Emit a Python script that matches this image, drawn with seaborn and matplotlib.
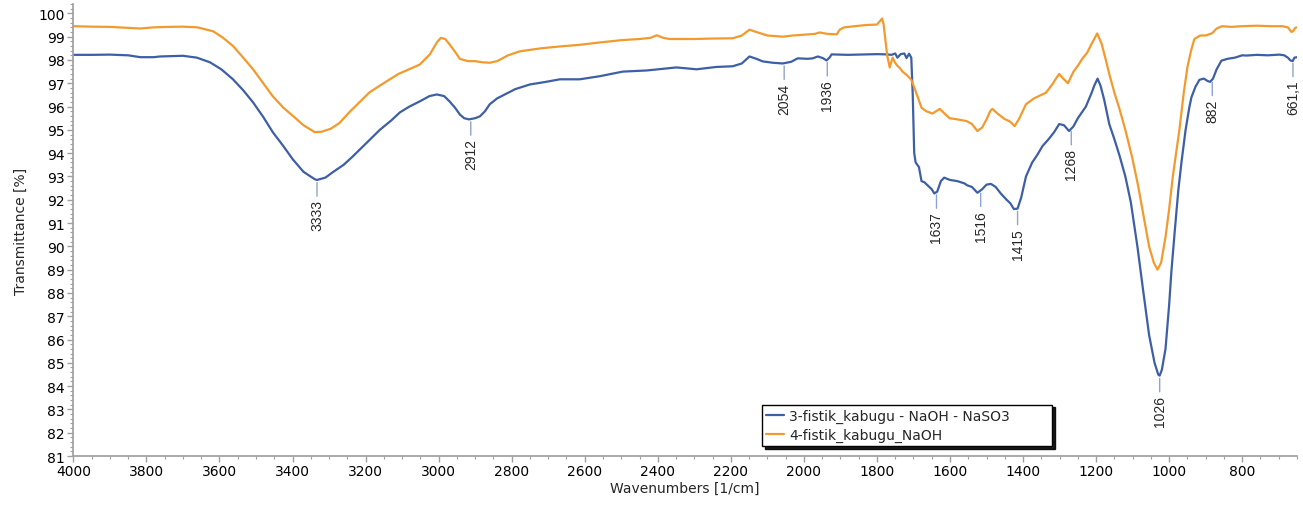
import numpy as np
import pandas as pd
import matplotlib
matplotlib.use("Agg")
import matplotlib.pyplot as plt
from matplotlib.ticker import MultipleLocator
import seaborn as sns

# Spectrum 3: blue
wn_3 = [4000, 3950, 3900, 3850, 3817, 3780, 3763, 3700, 3662, 3626, 3595, 3563, 3535, 3508,
        3480, 3454, 3425, 3399, 3370, 3339, 3333, 3310, 3290, 3260, 3235, 3200, 3161, 3130,
        3106, 3080, 3052, 3025, 3005, 2985, 2970, 2955, 2942, 2930, 2917, 2900, 2887, 2873,
        2860, 2840, 2819, 2790, 2750, 2710, 2668, 2614, 2560, 2496, 2430, 2349, 2294, 2240,
        2195, 2170, 2149, 2130, 2113, 2085, 2058, 2035, 2017, 1990, 1976, 1962, 1948, 1938,
        1930, 1924, 1880, 1830, 1800, 1774, 1760, 1750, 1744, 1735, 1725, 1719, 1712, 1706,
        1702, 1698, 1694, 1685, 1678, 1670, 1660, 1650, 1643, 1635, 1625, 1616, 1600, 1580,
        1560, 1553, 1540, 1525, 1512, 1500, 1488, 1475, 1460, 1445, 1435, 1425, 1415, 1405,
        1392, 1375, 1360, 1347, 1330, 1315, 1301, 1288, 1274, 1262, 1250, 1228, 1212, 1205,
        1196, 1188, 1178, 1164, 1150, 1136, 1120, 1105, 1087, 1072, 1055, 1040, 1030, 1026,
        1020, 1010, 1000, 994, 985, 975, 966, 955, 945, 939, 928, 917, 905, 895, 888, 880,
        870, 857, 840, 820, 800, 788, 760, 730, 698, 685, 675, 668, 662, 657, 650]
t_3 = [98.22, 98.22, 98.23, 98.2, 98.12, 98.12, 98.15, 98.18, 98.1, 97.9, 97.6, 97.17, 96.7, 96.18,
       95.55, 94.9, 94.3, 93.73, 93.2, 92.88, 92.85, 92.95, 93.18, 93.5, 93.86, 94.4, 95.0, 95.4,
       95.75, 96.0, 96.22, 96.45, 96.52, 96.45, 96.22, 95.95, 95.66, 95.5, 95.45, 95.5, 95.58, 95.8,
       96.1, 96.35, 96.52, 96.75, 96.95, 97.05, 97.17, 97.17, 97.3, 97.5, 97.55, 97.68, 97.6, 97.7,
       97.73, 97.85, 98.15, 98.05, 97.94, 97.88, 97.85, 97.92, 98.07, 98.05, 98.07, 98.15, 98.08, 97.98,
       98.1, 98.24, 98.22, 98.24, 98.25, 98.24, 98.22, 98.28, 98.1, 98.25, 98.28, 98.08, 98.27, 98.1,
       96.5, 94.0, 93.6, 93.4, 92.8, 92.75, 92.6, 92.45, 92.27, 92.35, 92.8, 92.95, 92.85, 92.8,
       92.7, 92.62, 92.55, 92.3, 92.45, 92.65, 92.68, 92.55, 92.25, 92.0, 91.85, 91.6, 91.62, 92.1,
       93.0, 93.6, 93.95, 94.3, 94.6, 94.9, 95.25, 95.2, 94.95, 95.15, 95.5, 96.0, 96.6, 96.9,
       97.2, 96.9, 96.3, 95.25, 94.6, 93.9, 93.0, 91.9, 90.0, 88.2, 86.2, 85.0, 84.5, 84.45,
       84.7, 85.6, 87.5, 88.9, 90.6, 92.4, 93.65, 95.0, 95.95, 96.4, 96.85, 97.15, 97.2, 97.1, 97.06, 97.2,
       97.6, 97.97, 98.05, 98.1, 98.2, 98.19, 98.22, 98.2, 98.23, 98.2, 98.1, 97.98, 97.95, 98.1, 98.12]

# Spectrum 4: orange
wn_4 = [4000, 3950, 3900, 3850, 3817, 3780, 3740, 3700, 3660, 3617, 3590, 3563, 3535, 3508,
        3480, 3454, 3425, 3399, 3370, 3339, 3320, 3295, 3271, 3245, 3216, 3190, 3161, 3110,
        3052, 3024, 3005, 2994, 2982, 2970, 2955, 2942, 2920, 2900, 2880, 2860, 2840, 2810,
        2778, 2720, 2668, 2614, 2560, 2500, 2450, 2420, 2403, 2385, 2368, 2300, 2250, 2195,
        2170, 2149, 2130, 2100, 2058, 2030, 1985, 1970, 1957, 1935, 1910, 1902, 1890, 1860,
        1830, 1800, 1790, 1786, 1782, 1778, 1772, 1765, 1761, 1757, 1751, 1744, 1737, 1730,
        1718, 1706, 1695, 1686, 1678, 1665, 1648, 1638, 1628, 1615, 1601, 1580, 1555, 1540,
        1525, 1512, 1500, 1490, 1484, 1470, 1451, 1435, 1423, 1410, 1392, 1370, 1350, 1337,
        1320, 1310, 1301, 1290, 1277, 1262, 1250, 1238, 1225, 1212, 1197, 1185, 1175, 1164,
        1150, 1136, 1120, 1101, 1085, 1070, 1055, 1042, 1032, 1022, 1010, 1000, 990, 980,
        972, 960, 950, 940, 931, 915, 900, 882, 870, 855, 830, 800, 760, 720, 690, 675,
        665, 660, 655, 650]
t_4 = [99.45, 99.43, 99.42, 99.38, 99.35, 99.4, 99.42, 99.43, 99.4, 99.23, 98.95, 98.6, 98.1, 97.6,
       97.0, 96.44, 95.95, 95.6, 95.2, 94.9, 94.92, 95.05, 95.3, 95.75, 96.2, 96.6, 96.9, 97.4,
       97.8, 98.24, 98.75, 98.95, 98.9, 98.67, 98.35, 98.05, 97.95, 97.95, 97.9, 97.88, 97.95, 98.2,
       98.37, 98.5, 98.58, 98.65, 98.75, 98.85, 98.9, 98.95, 99.06, 98.95, 98.9, 98.9, 98.92, 98.93,
       99.05, 99.3, 99.2, 99.05, 99.0, 99.05, 99.1, 99.12, 99.18, 99.12, 99.1, 99.3, 99.4, 99.45,
       99.5, 99.52, 99.7, 99.78, 99.55, 99.0, 98.2, 97.68, 97.9, 98.1, 97.9, 97.75, 97.65, 97.5,
       97.35, 97.15, 96.7, 96.3, 95.95, 95.8, 95.7, 95.8, 95.9, 95.7, 95.5, 95.45, 95.38, 95.25,
       94.95, 95.1, 95.45, 95.8, 95.9, 95.7, 95.47, 95.35, 95.16, 95.5, 96.1, 96.35, 96.5, 96.6,
       96.95, 97.2, 97.4, 97.2, 97.0, 97.5, 97.75, 98.05, 98.3, 98.7, 99.14, 98.7, 98.1, 97.4,
       96.6, 95.9, 95.0, 93.8, 92.6, 91.3, 90.0, 89.3, 89.0, 89.3, 90.4, 91.6, 93.0, 94.1,
       95.0, 96.6, 97.7, 98.4, 98.9, 99.05, 99.05, 99.15, 99.35, 99.45, 99.42, 99.45, 99.47, 99.45, 99.45, 99.4,
       99.2, 99.25, 99.38, 99.4]

names = ["3-fistik_kabugu - NaOH - NaSO3", "4-fistik_kabugu_NaOH"]
colors = ["#3d5fa6", "#f39a2e"]

peaks = [3333, 2912, 2054, 1936, 1637, 1516, 1415, 1268, 1026, 882, 661.1]
peak_labels = ["3333", "2912", "2054", "1936", "1637", "1516", "1415", "1268", "1026", "882", "661,1"]

df = pd.concat([
    pd.DataFrame({"wn": wn_3, "T": t_3, "sample": names[0]}),
    pd.DataFrame({"wn": wn_4, "T": t_4, "sample": names[1]}),
])

sns.set_theme(style="white")
plt.rcParams["font.family"] = ["DejaVu Sans"]
plt.rcParams["axes.edgecolor"] = "#a0a0a0"

fig = plt.figure(figsize=(13.03, 5.06), dpi=100)
ax = fig.add_axes([0.0563, 0.0968, 0.9391, 0.8932])

sns.lineplot(data=df, x="wn", y="T", hue="sample", palette=colors, estimator=None,
             sort=False, linewidth=1.6, ax=ax, legend=False)
for name, col in zip(names, colors):
    ax.plot([], [], color=col, linewidth=1.6, label=name)

ax.set_xlim(4000, 650)
ax.set_ylim(81, 100.4)
ax.xaxis.set_major_locator(MultipleLocator(200))
ax.xaxis.set_minor_locator(MultipleLocator(50))
ax.yaxis.set_major_locator(MultipleLocator(1))
ax.yaxis.set_minor_locator(MultipleLocator(0.2))
ax.tick_params(which="both", direction="out", color="#a0a0a0", labelsize=10,
               labelcolor="black", pad=2)
ax.tick_params(which="major", length=4, width=1)
ax.tick_params(which="minor", length=2, width=0.8)
ax.tick_params(axis="x", which="both", bottom=True)
ax.tick_params(axis="y", which="both", left=True)
ax.spines["top"].set_visible(False)
ax.spines["right"].set_visible(False)
ax.set_xlabel("Wavenumbers [1/cm]", fontsize=10, labelpad=2)
ax.set_ylabel("Transmittance [%]", fontsize=10, labelpad=8)
ax.grid(False)

# peak labels on the blue spectrum
order = np.argsort(wn_3)
wx = np.array(wn_3)[order]
wy = np.array(t_3)[order]
for pk, lab in zip(peaks, peak_labels):
    yv = np.interp(pk, wx, wy)
    ax.annotate(lab, xy=(pk, yv), xytext=(0, -14), textcoords="offset points",
                rotation=90, ha="center", va="top", fontsize=10,
                family=["Liberation Sans", "DejaVu Sans"],
                arrowprops=dict(arrowstyle="-", color="#8fa3cc", lw=1,
                                shrinkA=0, shrinkB=2))

leg = ax.legend(loc="lower left", bbox_to_anchor=(0.5627, 0.022, 0.237, 0.11),
                mode="expand", borderaxespad=0, fontsize=10, frameon=True,
                fancybox=False, handlelength=1.3, handletextpad=0.35,
                borderpad=0.3, labelspacing=0.35,
                shadow={"color": "black", "alpha": 0.9})
leg.get_frame().set_edgecolor("black")
leg.get_frame().set_linewidth(1)

fig.savefig("out.png", dpi=100)
